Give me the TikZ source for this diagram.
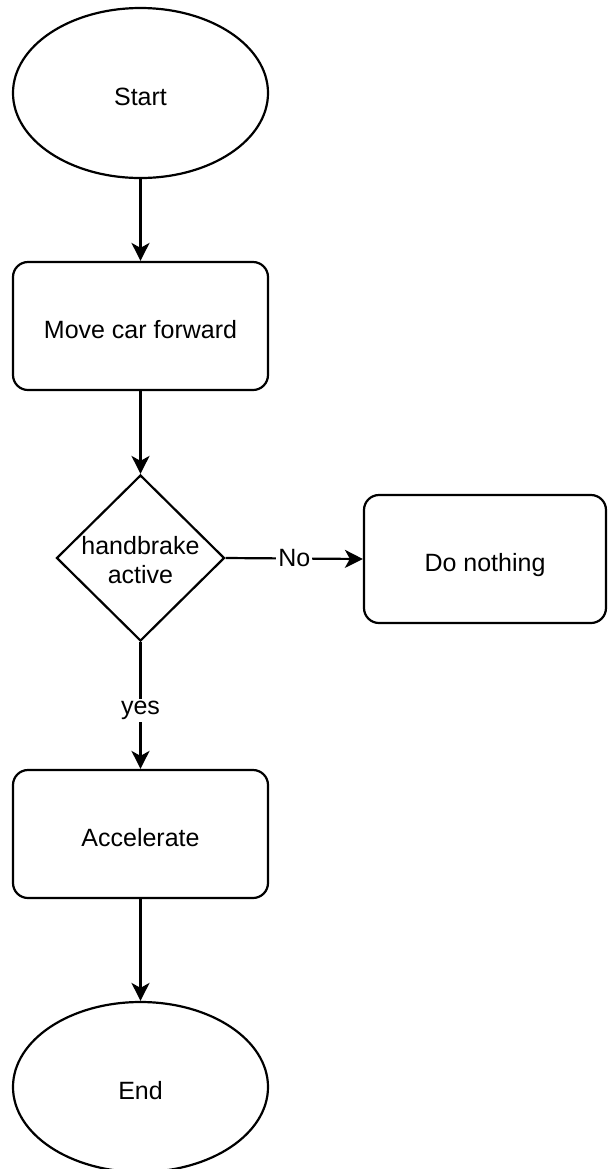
\documentclass[tikz,border=0pt]{standalone}
\usepackage{fontspec}
\setmainfont{Liberation Sans}
\usetikzlibrary{shapes.geometric,arrows.meta}
\begin{document}
\begin{tikzpicture}[x=0.5pt,y=-0.5pt, line width=1.1pt,
  every node/.style={font=\fontsize{12.5}{14.5}\selectfont},
  term/.style={draw, ellipse, minimum width=127.5pt, minimum height=85pt, inner sep=0pt, text height=12.5pt, text depth=0pt},
  proc/.style={draw, rounded corners=7.5pt, minimum width=127.5pt, minimum height=64pt, text height=12.5pt, text depth=0pt},
  dec/.style={draw, diamond, minimum width=84pt, minimum height=83pt, inner sep=0pt},
  txt/.style={align=center, inner sep=0pt},
  arr/.style={-{Stealth[length=9pt,width=9pt,inset=2.5pt]}},
  lbl/.style={fill=white, inner sep=1pt}]
\useasboundingbox (0,0) rectangle (608,1169);
\node[term] (start) at (140.5,93) {Start};
\node[proc] (move) at (140.5,326) {Move car forward};
\node[dec] (dec) at (140.5,558) {};
\node[txt] (dect) at (140.5,560.5) {handbrake\\active};
\node[proc, minimum width=121pt] (none) at (485,559) {Do nothing};
\node[proc] (acc) at (140.5,834) {Accelerate};
\node[term] (end) at (140.5,1087) {End};
\draw[arr] (start) -- (move);
\draw[arr] (move) -- (dec.north);
\draw[arr] (dec.east) -- node[lbl] (no) {No} (none.west);
\draw[arr] (dec.south) -- node[lbl, pos=0.54] (yes) {yes} (acc.north);
\draw[arr] (acc) -- (end);
\end{tikzpicture}
\end{document}
